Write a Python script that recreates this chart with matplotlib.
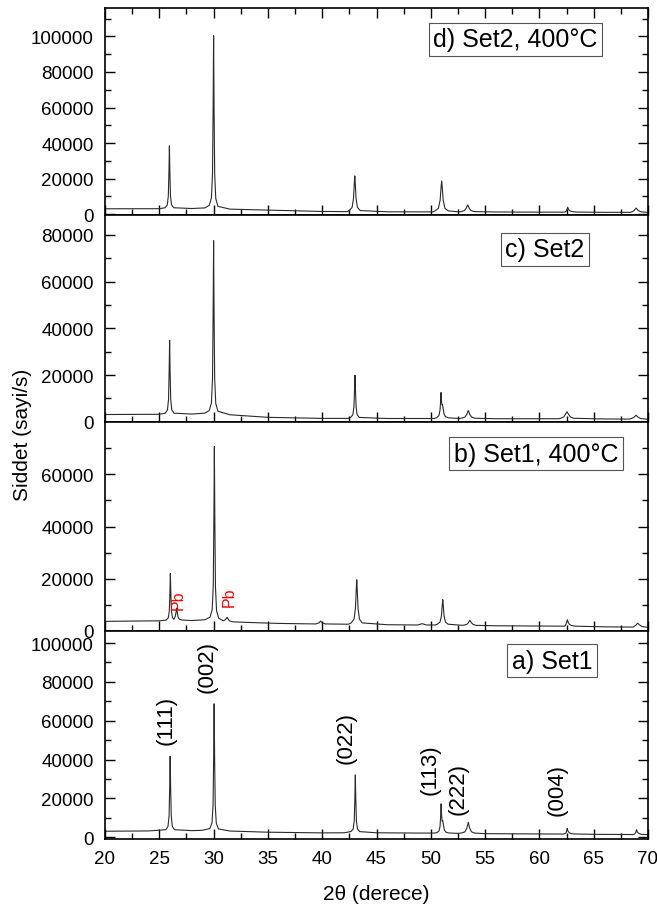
import matplotlib
matplotlib.use("Agg")
import matplotlib.pyplot as plt
from matplotlib.ticker import MultipleLocator, FixedLocator

plt.rcParams['font.family'] = ['Liberation Sans', 'DejaVu Sans']

# ---------------- data ----------------
# a) Set1
a_x = [20, 24, 25.6, 25.8, 25.9, 25.96, 26.0, 26.04, 26.1, 26.2, 26.4, 28, 29, 29.65, 29.85, 29.95, 30.01, 30.05,
       30.09, 30.15, 30.25, 30.45, 31.5, 35, 40, 42, 42.65, 42.85, 42.95, 43.01, 43.05, 43.09, 43.15, 43.25, 43.45,
       45, 49, 50.3, 50.55, 50.75, 50.85, 50.91, 50.95, 50.99, 51.04, 51.1, 51.16, 51.25, 51.4, 51.65, 52.5, 52.85,
       53.15, 53.325, 53.45, 53.575, 53.75, 54.05, 55, 60, 62.2, 62.3, 62.45, 62.52, 62.56, 62.62, 62.72, 62.9,
       63.2, 65, 68.6, 68.75, 68.88, 68.95, 69.02, 69.15, 69.4, 70]
a_y = [3100, 3250, 3880, 5570, 10980, 26720, 41700, 26720, 10980, 5570, 3880, 3400, 3600, 4480, 7350, 16540, 43270,
       68700, 43070, 16340, 7150, 4280, 3200, 2600, 2250, 2300, 2944, 4250, 8420, 20560, 32100, 20560, 8420, 4250,
       2900, 2300, 2150, 2150, 2350, 3200, 5500, 11000, 17200, 11500, 8400, 8600, 6500, 3700, 2600, 2200, 2000,
       2200, 2800, 4800, 7700, 4800, 2800, 2150, 1850, 1700, 1650, 1750, 2200, 3500, 4600, 3300, 2500, 1900, 1700,
       1500, 1400, 1600, 2500, 3900, 2700, 2000, 1500, 1300]

# b) Set1, 400 C
b_x = [20, 25, 25.62, 25.82, 25.92, 25.98, 26.02, 26.06, 26.12, 26.22, 26.35, 26.47, 26.55, 26.6, 26.65, 26.73,
       26.85, 27.1, 28, 29.2, 29.67, 29.87, 29.97, 30.03, 30.07, 30.11, 30.17, 30.27, 30.47, 30.9, 31.1, 31.2,
       31.25, 31.32, 31.45, 31.8, 33, 36, 39.4, 39.7, 39.85, 40.0, 40.3, 42.4, 42.68, 42.93, 43.06, 43.13, 43.18,
       43.23, 43.3, 43.43, 43.68, 46, 48.8, 49.2, 49.6, 50.4, 50.6, 50.85, 50.98, 51.05, 51.1, 51.15, 51.22, 51.35,
       51.6, 52.8, 53.0, 53.3, 53.45, 53.6, 53.75, 53.9, 54.2, 56, 60, 62.3, 62.4, 62.5, 62.57, 62.65, 62.75,
       62.95, 63.3, 66, 68.6, 68.7, 68.9, 69.05, 69.2, 69.45, 70]
b_y = [3700, 3900, 4170, 4970, 7520, 14940, 22000, 14940, 7520, 5070, 4480, 5600, 7300, 8800, 7300, 5300,
       4500, 4200, 4000, 4300, 5290, 8210, 17560, 44740, 70600, 44340, 17160, 7810, 4890, 3900, 4400, 5000,
       5200, 4700, 3900, 3500, 3300, 2900, 2700, 3100, 3800, 3100, 2700, 2600, 3130, 4555, 8720, 15520, 19600,
       15520, 8720, 4555, 3100, 2400, 2300, 2800, 2300, 2300, 2600, 3415, 5790, 9670, 12000, 9670, 5790, 3415,
       2600, 2200, 2200, 2500, 3100, 4100, 3100, 2500, 2150, 2000, 1900, 1850, 2100, 3200, 4300, 3300, 2600,
       2100, 1850, 1600, 1500, 1700, 2300, 3000, 2400, 1700, 1400]

# c) Set2
c_x = [20, 25, 25.55, 25.75, 25.85, 25.91, 25.95, 25.99, 26.05, 26.15, 26.35, 28, 29.2, 29.6, 29.8, 29.9, 29.96,
       30.0, 30.04, 30.1, 30.2, 30.4, 31.5, 35, 40, 42.4, 42.62, 42.82, 42.92, 42.98, 43.02, 43.06, 43.12, 43.22,
       43.42, 46, 50.3, 50.55, 50.75, 50.85, 50.9, 50.94, 50.98, 51.03, 51.08, 51.14, 51.22, 51.35, 51.6, 52.6,
       52.85, 53.15, 53.3, 53.45, 53.6, 53.75, 54.05, 56, 60, 61.8, 61.95, 62.25, 62.37, 62.54, 62.71, 62.85,
       63.15, 66, 68.3, 68.45, 68.7, 68.9, 69.1, 69.35, 70]
c_y = [3100, 3200, 3680, 5070, 9540, 22540, 34900, 22540, 9540, 5070, 3680, 3300, 3700, 4810, 8050, 18460, 48720,
       77500, 48520, 18160, 7750, 4510, 3000, 1900, 1450, 1450, 1860, 2980, 6340, 14180, 19900, 14180, 6340, 2980,
       1860, 1400, 1400, 1750, 2700, 5000, 8500, 12500, 9000, 7200, 7300, 5600, 3300, 2200, 1700, 1400,
       1550, 2050, 3100, 4800, 3100, 2050, 1500, 1300, 1300, 1300, 1500, 2100, 3000, 4300, 3000, 2100,
       1500, 1200, 1150, 1350, 1900, 2800, 1900, 1350, 1100]

# d) Set2, 400 C
d_x = [20, 25, 25.53, 25.73, 25.83, 25.89, 25.93, 25.97, 26.03, 26.13, 26.33, 28, 29.2, 29.6, 29.8, 29.9, 29.96,
       30.0, 30.04, 30.1, 30.2, 30.4, 31.5, 35, 40, 42.3, 42.5, 42.75, 42.88, 42.95, 43.0, 43.05, 43.12, 43.25,
       43.5, 46, 50.2, 50.4, 50.7, 50.86, 50.94, 51.0, 51.06, 51.14, 51.3, 51.6, 52.6, 52.8, 53.1, 53.25, 53.4,
       53.55, 53.7, 54.0, 56, 60, 62.3, 62.45, 62.55, 62.6, 62.67, 62.78, 63.0, 63.4, 66, 68.4, 68.5, 68.7, 68.9,
       69.1, 69.35, 70]
d_y = [3000, 3050, 3580, 5140, 10100, 24600, 38400, 24600, 10100, 5140, 3580, 3150, 3500, 4950, 9200, 22900, 62600,
       100400, 62100, 22400, 8700, 4400, 2800, 2250, 1500, 1400, 2020, 3710, 8640, 16680, 21500, 16680, 8640, 3710,
       2000, 1300, 1250, 1830, 3310, 7880, 14690, 18700, 14690, 7880, 3310, 1830, 1250, 1400, 2000, 3200, 5200,
       3200, 2000, 1400, 1200, 1100, 1100, 1500, 2900, 3900, 2800, 1900, 1400, 1150, 1000, 1000, 1250, 1900, 3400,
       2000, 1300, 950]

panel_names = ["d) Set2, 400°C", "c) Set2", "b) Set1, 400°C", "a) Set1"]
panel_x = [d_x, c_x, b_x, a_x]
panel_y = [d_y, c_y, b_y, a_y]
panel_ylim = [(-500, 116000), (-100, 88500), (0, 80000), (-900, 106200)]
panel_yticks = [[0, 20000, 40000, 60000, 80000, 100000],
                [0, 20000, 40000, 60000, 80000],
                [0, 20000, 40000, 60000],
                [0, 20000, 40000, 60000, 80000, 100000]]
panel_ymax_minor = [110000, 80000, 70000, 100000]
box_pos = [(0.756, 0.848), (0.810, 0.835), (0.794, 0.849), (0.823, 0.856)]

hkl_labels = ["(111)", "(002)", "(022)", "(113)", "(222)", "(004)"]
hkl_x = [25.62, 29.39, 42.19, 49.93, 52.5, 61.62]
hkl_y = [60900, 88200, 51600, 35200, 25400, 24900]

pb_labels = ["Pb", "Pb"]
pb_x = [26.72, 31.42]
pb_y = [12200, 13400]

# ---------------- figure ----------------
fig = plt.figure(figsize=(6.57, 9.12), dpi=100)
left, width = 105 / 657, 543 / 657
tops_px = [9, 216, 423, 632]
bots_px = [216, 423, 632, 840]

axes = []
for i in range(4):
    b0 = 1 - bots_px[i] / 912
    h = (bots_px[i] - tops_px[i]) / 912
    ax = fig.add_axes([left, b0, width, h])
    axes.append(ax)
    ax.plot(panel_x[i], panel_y[i], color='#2a2a2a', lw=0.8)
    ax.set_xlim(20, 70)
    ax.set_ylim(*panel_ylim[i])
    ax.yaxis.set_major_locator(FixedLocator(panel_yticks[i]))
    ax.yaxis.set_minor_locator(FixedLocator(list(range(10000, panel_ymax_minor[i] + 1, 20000))))
    ax.xaxis.set_major_locator(MultipleLocator(5))
    ax.xaxis.set_minor_locator(MultipleLocator(2.5))
    ax.tick_params(which='both', direction='in', right=True, top=(i == 0),
                   labelsize=13.5, width=1.0, pad=8)
    ax.tick_params(which='major', length=7)
    ax.tick_params(which='minor', length=4.5)
    for s in ax.spines.values():
        s.set_linewidth(1.2)
    if i < 3:
        ax.tick_params(axis='x', labelbottom=False)
    ax.text(box_pos[i][0], box_pos[i][1], panel_names[i], transform=ax.transAxes,
            ha='center', va='center', fontsize=18,
            bbox=dict(boxstyle='square,pad=0.18', fc='white', ec='#555555', lw=0.8))

ax_a = axes[3]
for lab, xx, yy in zip(hkl_labels, hkl_x, hkl_y):
    ax_a.text(xx, yy, lab, rotation=90, ha='center', va='center', fontsize=16)
ax_a.set_xlabel("2θ (derece)", fontsize=15, labelpad=12)

ax_b = axes[2]
for lab, xx, yy in zip(pb_labels, pb_x, pb_y):
    ax_b.text(xx, yy, lab, rotation=90, ha='center', va='center', fontsize=11.5, color='red')

fig.text(23 / 657, 1 - 435 / 912, "Siddet (sayi/s)", rotation=90, ha='center', va='center', fontsize=15)

fig.savefig("out.png", dpi=100)
